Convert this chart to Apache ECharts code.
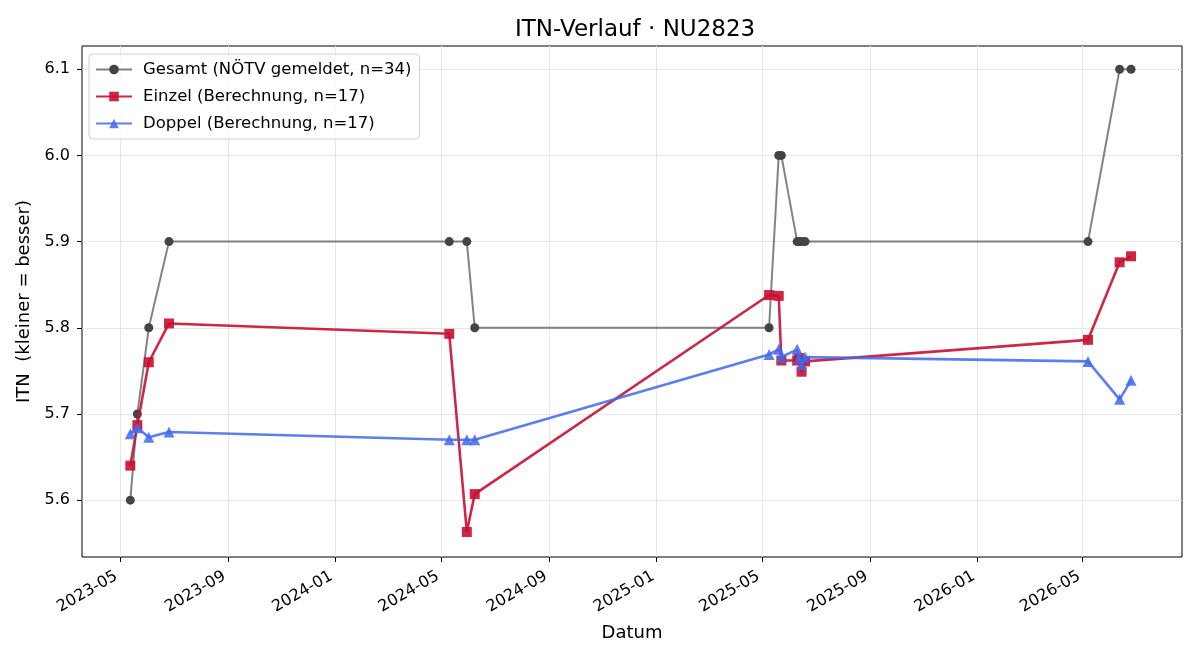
<!DOCTYPE html>
<html>
<head>
<meta charset="utf-8">
<script src="https://cdn.jsdelivr.net/npm/echarts@6/dist/echarts.min.js"></script>
<style>
  html, body { margin: 0; padding: 0; background: #fff; }
  #chart { width: 1200px; height: 660px; }
</style>
</head>
<body>
<div id="chart"></div>
<script>
// Spieldaten (Datum je Begegnung)
var dates = [
    '2023-05-13', '2023-05-21', '2023-06-03', '2023-06-26',
    '2024-05-10', '2024-05-30', '2024-06-08',
    '2025-05-09', '2025-05-20', '2025-05-23', '2025-06-10', '2025-06-12', '2025-06-15', '2025-06-19',
    '2026-05-07', '2026-06-12', '2026-06-25'
];
var gesamt = [5.6, 5.7, 5.8, 5.9, 5.9, 5.9, 5.8, 5.8, 6.0, 6.0, 5.9, 5.9, 5.9, 5.9, 5.9, 6.1, 6.1];
var einzel = [5.640, 5.687, 5.760, 5.805, 5.793, 5.563, 5.607, 5.838, 5.837, 5.762, 5.762, 5.765, 5.749, 5.761, 5.786, 5.876, 5.883];
var doppel = [5.677, 5.684, 5.673, 5.679, 5.670, 5.670, 5.670, 5.769, 5.775, 5.766, 5.775, 5.765, 5.757, 5.766, 5.761, 5.717, 5.739];

var xTicks = ['2023-05', '2023-09', '2024-01', '2024-05', '2024-09', '2025-01', '2025-05', '2025-09', '2026-01', '2026-05'];
var yTicks = [5.6, 5.7, 5.8, 5.9, 6.0, 6.1];

function ts(s) {
    var p = s.split('-');
    return Date.UTC(+p[0], +p[1] - 1, p[2] ? +p[2] : 1);
}
function pairs(vals) {
    return dates.map(function (d, i) { return [ts(d), vals[i]]; });
}
var xTickValues = xTicks.map(ts);

var chartDom = document.getElementById('chart');
var myChart = echarts.init(chartDom);

var font = 'DejaVu Sans';

var option = {
    backgroundColor: '#fff',
    animation: false,
    textStyle: { fontFamily: font },
    title: {
        text: 'ITN-Verlauf · NU2823',
        left: 510,
        top: 14,
        textStyle: { fontFamily: font, fontSize: 23, fontWeight: 'normal', color: '#000' }
    },
    legend: {
        orient: 'vertical',
        left: 89,
        top: 54,
        padding: [7, 8, 7, 6],
        itemGap: 10,
        itemWidth: 36,
        itemHeight: 12,
        borderColor: '#d0d0d0',
        borderWidth: 1,
        borderRadius: 4,
        backgroundColor: 'rgba(255,255,255,0.8)',
        textStyle: { fontFamily: font, fontSize: 16.5, color: '#000', padding: [0, 0, 0, 6] },
        data: ['Gesamt (NÖTV gemeldet, n=34)', 'Einzel (Berechnung, n=17)', 'Doppel (Berechnung, n=17)']
    },
    grid: {
        left: 82,
        right: 18,
        top: 46,
        bottom: 103,
        show: true,
        borderColor: '#000',
        borderWidth: 1
    },
    xAxis: {
        type: 'value',
        min: ts('2023-03-19'),
        max: ts('2026-08-22'),
        name: 'Datum',
        nameLocation: 'middle',
        nameGap: 67,
        nameTextStyle: { fontFamily: font, fontSize: 18, color: '#000' },
        axisLine: { show: false },
        axisTick: { show: true, length: 5, customValues: xTickValues, lineStyle: { color: '#000' } },
        axisLabel: {
            customValues: xTickValues,
            rotate: 30,
            margin: 16,
            padding: [0, 4, 0, 0],
            fontFamily: font,
            fontSize: 16,
            color: '#000',
            formatter: function (v) {
                var d = new Date(v);
                var m = d.getUTCMonth() + 1;
                return d.getUTCFullYear() + '-' + (m < 10 ? '0' + m : m);
            }
        },
        splitLine: { show: true, lineStyle: { color: '#e6e6e6', width: 1 } }
    },
    yAxis: {
        type: 'value',
        min: 5.534,
        max: 6.127,
        name: 'ITN  (kleiner = besser)',
        nameLocation: 'middle',
        nameGap: 47,
        nameTextStyle: { fontFamily: font, fontSize: 18, color: '#000' },
        axisLine: { show: false },
        axisTick: { show: true, length: 5, customValues: yTicks, lineStyle: { color: '#000' } },
        axisLabel: {
            customValues: yTicks,
            margin: 12,
            fontFamily: font,
            fontSize: 16,
            color: '#000',
            formatter: function (v) { return v.toFixed(1); }
        },
        splitLine: { show: true, lineStyle: { color: '#e6e6e6', width: 1 } }
    },
    series: [
        {
            name: 'Gesamt (NÖTV gemeldet, n=34)',
            type: 'line',
            data: pairs(gesamt),
            symbol: 'circle',
            symbolSize: 9,
            itemStyle: { color: '#444444' },
            lineStyle: { color: 'rgba(90,90,90,0.75)', width: 2 },
            z: 2
        },
        {
            name: 'Einzel (Berechnung, n=17)',
            type: 'line',
            data: pairs(einzel),
            symbol: 'rect',
            symbolSize: 10,
            itemStyle: { color: 'rgba(200,16,50,0.9)' },
            lineStyle: { color: 'rgba(200,16,50,0.9)', width: 2.6 },
            z: 3
        },
        {
            name: 'Doppel (Berechnung, n=17)',
            type: 'line',
            data: pairs(doppel),
            symbol: 'triangle',
            symbolSize: 11,
            itemStyle: { color: 'rgba(65,105,235,0.85)' },
            lineStyle: { color: 'rgba(65,105,235,0.85)', width: 2.6 },
            z: 4
        }
    ]
};

myChart.setOption(option);
window.addEventListener('resize', function () {
    myChart.resize();
});
</script>
</body>
</html>
